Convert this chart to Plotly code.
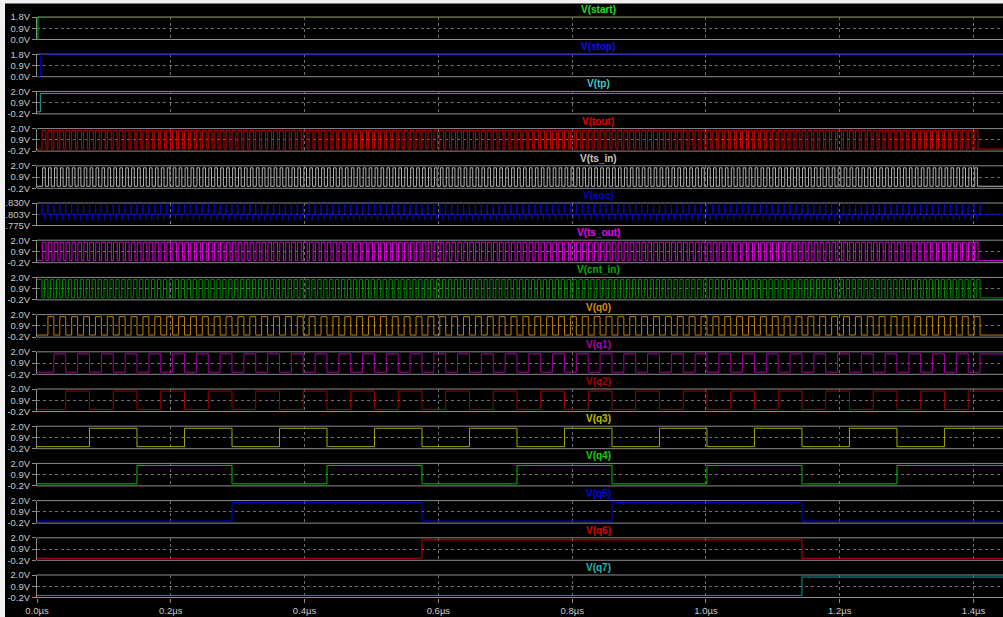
import plotly.graph_objects as go

# ---------------- data ----------------
signal_names = ["V(start)", "V(stop)", "V(tp)", "V(tout)", "V(ts_in)", "V(eoc)",
                "V(ts_out)", "V(cnt_in)", "V(q0)", "V(q1)", "V(q2)", "V(q3)",
                "V(q4)", "V(q5)", "V(q6)", "V(q7)"]
signal_colors = ["#00b400", "#0000e6", "#2aa6a6", "#c80000", "#b4b4b4", "#0a0ab4",
                 "#dc00dc", "#008c00", "#c08000", "#a000a0", "#a00000", "#a8a800",
                 "#00c000", "#0000dc", "#d00000", "#009c9c"]
label_colors = ["#20e020", "#1010f0", "#40c8c8", "#e00000", "#c8c8c8", "#0000d8",
                "#f000f0", "#00b000", "#d09000", "#b000b0", "#b00000", "#c0c000",
                "#10d010", "#0000f0", "#e00000", "#20b8b8"]

# y-axis ticks per panel
ticks_std = [-0.2, 0.9, 2.0]
ticks_std_text = ["-0.2V", "0.9V", "2.0V"]
ticks_start = [0.0, 0.9, 1.8]
ticks_start_text = ["0.0V", "0.9V", "1.8V"]
ticks_eoc = [1.775, 1.8025, 1.830]
ticks_eoc_text = ["1.775V", "1.803V", "1.830V"]

# x axis (microseconds)
x_ticks = [0.0, 0.2, 0.4, 0.6, 0.8, 1.0, 1.2, 1.4]
x_tick_text = ["0.0\u00b5s", "0.2\u00b5s", "0.4\u00b5s", "0.6\u00b5s", "0.8\u00b5s",
               "1.0\u00b5s", "1.2\u00b5s", "1.4\u00b5s"]
t_end = 1.444

# logic levels
v_high = 1.8
v_low = 0.0

# step signals: (low-to-high edge time)
start_edge = 0.0015
stop_edge = 0.005
tp_edge = 0.005

# clock read from the counter edges (q4 rises x=137, q5 x=232, q6 x=422, q7 x=802)
clk_start = 0.00747      # count 0
clk_period = 0.008875    # one count
last_count = 158         # counting stops here (q1..q4 stay high to the right edge)

# fast signals: phase offset (fraction of a clock period) and high duty
fast_params = {
    "V(tout)":   (0.00, 0.65),
    "V(ts_in)":  (0.10, 0.45),
    "V(ts_out)": (0.05, 0.62),
    "V(cnt_in)": (0.45, 0.55),
}

# eoc: ripple around a baseline
eoc_base = 1.8025
eoc_up_peak = 1.829
eoc_down_peak = 1.788
eoc_spike_halfwidth = 0.0005

counter_bits = 8

# ---------------- build waveforms ----------------
def step(edge):
    return [0.0, edge, t_end], [v_low, v_high, v_high]

def fast(phase, duty, start_high=False):
    xs, ys = [0.0], [v_high if start_high else v_low]
    if start_high:
        xs.append(clk_start)
        ys.append(v_low)
    for n in range(last_count):
        tr = clk_start + (n + phase) * clk_period
        tf = tr + duty * clk_period
        xs += [tr, tf]
        ys += [v_high, v_low]
    xs.append(t_end)
    ys.append(v_low)
    return xs, ys

def counter_bit(k):
    xs, ys = [0.0], [v_low]
    prev = 0
    for n in range(1, last_count + 1):
        t = clk_start + n * clk_period
        b = (n >> k) & 1
        if b != prev:
            xs.append(t)
            ys.append(v_high if b else v_low)
            prev = b
    xs.append(t_end)
    ys.append(ys[-1])
    return xs, ys

def eoc_wave():
    xs, ys = [0.0], [eoc_base]
    for n in range(last_count + 1):
        t = clk_start + n * clk_period
        pts = [(t, eoc_up_peak)]
        if n < last_count:
            pts.append((t + 0.5 * clk_period, eoc_down_peak))
        for tc, peak in pts:
            xs += [tc - eoc_spike_halfwidth, tc, tc + eoc_spike_halfwidth]
            ys += [eoc_base, peak, eoc_base]
    xs.append(t_end)
    ys.append(eoc_base)
    return xs, ys

waves = {}
waves["V(start)"] = step(start_edge)
waves["V(stop)"] = step(stop_edge)
waves["V(tp)"] = step(tp_edge)
for nm, (ph, du) in fast_params.items():
    waves[nm] = fast(ph, du, start_high=(nm == "V(cnt_in)"))
waves["V(eoc)"] = eoc_wave()
for k in range(counter_bits):
    waves[f"V(q{k})"] = counter_bit(k)

# ---------------- layout ----------------
W, H = 1003, 617
left_px = 37
panel_top0 = 17.0
panel_pitch = 37.2
panel_h = 22.5

fig = go.Figure()
shapes = []
annotations = []
grid_col = "#6e6e6e"
frame_col = "#8c8c8c"
tick_font = dict(family="Liberation Sans, Arial, sans-serif", size=9.5, color="#c8c8c8")

for i, nm in enumerate(signal_names):
    ax = "" if i == 0 else str(i + 1)
    top = panel_top0 + i * panel_pitch
    bot = top + panel_h
    dom = [1 - bot / H, 1 - top / H]
    if nm in ("V(start)", "V(stop)"):
        tv, tt, rng = ticks_start, ticks_start_text, [0.0, 1.8]
    elif nm == "V(eoc)":
        tv, tt, rng = ticks_eoc, ticks_eoc_text, [1.775, 1.830]
    else:
        tv, tt, rng = ticks_std, ticks_std_text, [-0.2, 2.0]
    xs, ys = waves[nm]
    fig.add_trace(go.Scatter(
        x=xs, y=ys, mode="lines", yaxis="y" + ax, xaxis="x",
        line=dict(color=signal_colors[i], width=1.0,
                  shape="linear" if nm == "V(eoc)" else "hv"),
        showlegend=False, hoverinfo="skip"))
    fig.layout["yaxis" + ax] = dict(
        domain=dom, range=rng, anchor="x", tickvals=tv, ticktext=tt,
        showgrid=True, gridcolor=grid_col, griddash="dot", gridwidth=1,
        zeroline=False, showline=True, linecolor=frame_col, linewidth=1,
        ticks="outside", ticklen=4, tickcolor=frame_col, tickfont=tick_font,
        automargin=False, fixedrange=True)
    for yy in (0, 1):
        shapes.append(dict(type="line", xref="paper", yref="y" + ax + " domain",
                           x0=0, x1=1, y0=yy, y1=yy, layer="below",
                           line=dict(color=frame_col, width=1)))
    annotations.append(dict(
        text="<b>" + nm + "</b>", xref="paper", yref="paper",
        x=(598 - left_px) / (W - left_px), y=1 - (top - 7.5) / H,
        xanchor="center", yanchor="middle", showarrow=False,
        font=dict(family="Liberation Sans, Arial, sans-serif", size=10,
                  color=label_colors[i])))

fig.layout.xaxis = dict(
    domain=[0, 1], range=[0, t_end], anchor="y" + str(len(signal_names)),
    tickvals=x_ticks, ticktext=x_tick_text, showgrid=True, gridcolor=grid_col,
    griddash="dot", gridwidth=1, zeroline=False, showline=False,
    ticks="outside", ticklen=4, tickcolor=frame_col, tickfont=tick_font,
    automargin=False, fixedrange=True)

# light frame strips at the top and left edges of the screenshot
shapes.append(dict(type="rect", xref="paper", yref="paper",
                   x0=-left_px / (W - left_px), x1=(5 - left_px) / (W - left_px),
                   y0=-0.05, y1=1.05, fillcolor="#f0f0f0", line=dict(width=0), layer="above"))
shapes.append(dict(type="rect", xref="paper", yref="paper",
                   x0=-left_px / (W - left_px), x1=1.01,
                   y0=1 - 3.5 / H, y1=1.05, fillcolor="#f0f0f0", line=dict(width=0), layer="above"))

fig.update_layout(
    width=W, height=H, paper_bgcolor="black", plot_bgcolor="black",
    margin=dict(l=left_px, r=0, t=0, b=0, autoexpand=False),
    shapes=shapes, annotations=annotations, showlegend=False)

fig.write_html("out.html", config={"displayModeBar": False},
               post_script="document.body.style.margin='0';document.body.style.overflow='hidden';")
